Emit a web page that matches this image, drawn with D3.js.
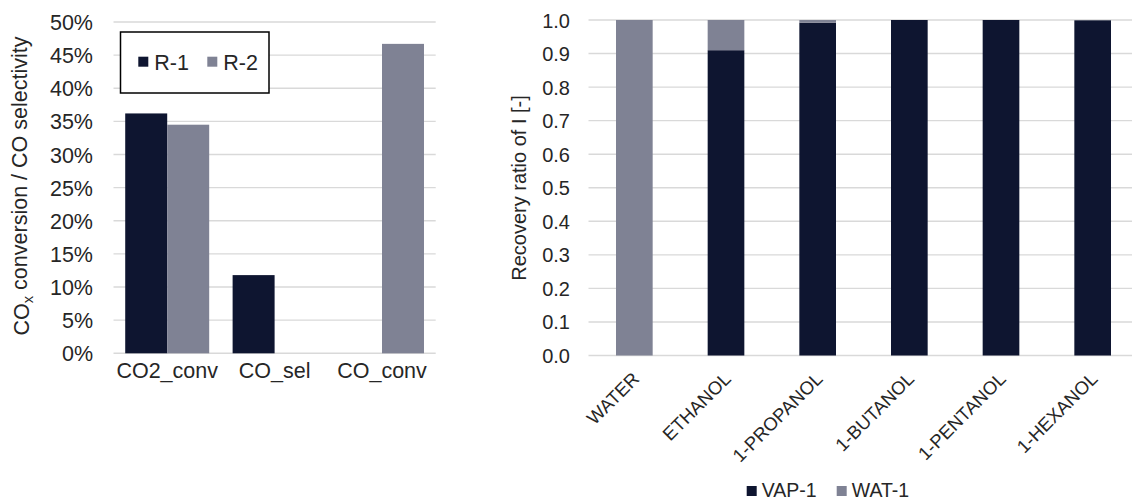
<!DOCTYPE html>
<html>
<head>
<meta charset="utf-8">
<script src="https://cdn.jsdelivr.net/npm/d3@7"></script>
<style>
  html, body { margin: 0; padding: 0; background: #fff; }
  svg { display: block; }
  text { font-family: "Liberation Sans", Arial, sans-serif; fill: #262626; }
</style>
</head>
<body>
<svg id="chart" width="1132" height="502"></svg>
<script>
// ---- Left chart data ----
const leftCategories = ["CO2_conv", "CO_sel", "CO_conv"];
const leftSeries = ["R-1", "R-2"];
const r1Values = [0.362, 0.118, 0];
const r2Values = [0.345, 0, 0.467];
const leftTicks = [0, 0.05, 0.10, 0.15, 0.20, 0.25, 0.30, 0.35, 0.40, 0.45, 0.50];

// ---- Right chart data ----
const rightCategories = ["WATER", "ETHANOL", "1-PROPANOL", "1-BUTANOL", "1-PENTANOL", "1-HEXANOL"];
const rightSeries = ["VAP-1", "WAT-1"];
const vapValues = [0, 0.910, 0.992, 1.0, 1.0, 0.999];
const watValues = [1.0, 0.090, 0.008, 0, 0, 0];
const rightTicks = [0, 0.1, 0.2, 0.3, 0.4, 0.5, 0.6, 0.7, 0.8, 0.9, 1.0];

const colors = { dark: "#0e1530", gray: "#7f8294" };
const gridColor = "#d9d9d9";

const svg = d3.select("#chart");

// ================= LEFT CHART =================
(function () {
  const fs = 21.5;
  const x0 = d3.scaleBand().domain(leftCategories).range([113.5, 435.7]);
  const x1 = d3.scaleBand().domain(leftSeries).range([0, x0.bandwidth()]).paddingInner(0).paddingOuter(0.279);
  const y = d3.scaleLinear().domain([0, 0.5]).range([353.3, 22]);
  const g = svg.append("g");

  const yAxis = d3.axisLeft(y).tickValues(leftTicks).tickFormat(d3.format(".0%")).tickSize(0).tickPadding(0);
  const ga = g.append("g").attr("transform", "translate(113.5,0)").call(yAxis);
  ga.select(".domain").remove();
  ga.selectAll("text").attr("x", -20.5).attr("dy", "0.35em").style("font-size", fs + "px").style("font-family", "Liberation Sans, Arial, sans-serif").attr("fill", "#262626");
  g.append("g").selectAll("line").data(leftTicks).join("line")
    .attr("x1", 113.5).attr("x2", 435.7)
    .attr("y1", d => y(d)).attr("y2", d => y(d))
    .attr("stroke", gridColor).attr("stroke-width", 1.4);

  const data = leftCategories.map((c, i) => ({ cat: c, vals: [r1Values[i], r2Values[i]] }));
  const grp = g.append("g").selectAll("g").data(data).join("g")
    .attr("transform", d => `translate(${x0(d.cat)},0)`);
  grp.selectAll("rect").data(d => d.vals.map((v, j) => ({ s: leftSeries[j], v })).filter(e => e.v > 0)).join("rect")
    .attr("x", d => x1(d.s)).attr("width", x1.bandwidth())
    .attr("y", d => y(d.v)).attr("height", d => y(0) - y(d.v))
    .attr("fill", d => d.s === "R-1" ? colors.dark : colors.gray);

  const xAxis = d3.axisBottom(x0).tickSize(0).tickPadding(0);
  const gx = g.append("g").attr("transform", "translate(0,353.3)").call(xAxis);
  gx.select(".domain").remove();
  gx.selectAll("text").attr("y", 25).attr("dy", 0).style("font-size", fs + "px").style("font-family", "Liberation Sans, Arial, sans-serif").attr("fill", "#262626");

  const t = g.append("text").attr("transform", "translate(29,186) rotate(-90)")
    .attr("text-anchor", "middle").style("font-size", fs + "px");
  t.append("tspan").text("CO");
  t.append("tspan").text("x").attr("dy", "0.3em").style("font-size", "0.68em");
  t.append("tspan").text(" conversion / CO selectivity").attr("dy", "-0.3em");

  const lg = g.append("g");
  lg.append("rect").attr("x", 120.5).attr("y", 32).attr("width", 148.5).attr("height", 61)
    .attr("fill", "#fff").attr("stroke", "#000").attr("stroke-width", 1.5);
  const items = lg.selectAll("g.item").data(leftSeries).join("g").attr("class", "item")
    .attr("transform", (d, i) => `translate(${138.3 + i * 69},0)`);
  items.append("rect").attr("x", 0).attr("y", 56.7).attr("width", 10).attr("height", 10)
    .attr("fill", d => d === "R-1" ? colors.dark : colors.gray);
  items.append("text").attr("x", 16).attr("y", 69.5).text(d => d).style("font-size", fs + "px");
})();

// ================= RIGHT CHART =================
(function () {
  const fs = 20;
  const x = d3.scaleBand().domain(rightCategories).range([588.5, 1138.5]).paddingInner(0.6).paddingOuter(0.3);
  const y = d3.scaleLinear().domain([0, 1]).range([355.5, 20]);
  const g = svg.append("g");

  const yAxis = d3.axisLeft(y).tickValues(rightTicks).tickFormat(d3.format(".1f")).tickSize(0).tickPadding(0);
  const ga = g.append("g").attr("transform", "translate(588.5,0)").call(yAxis);
  ga.select(".domain").remove();
  ga.selectAll("text").attr("x", -18.5).attr("dy", "0.35em").style("font-size", fs + "px").style("font-family", "Liberation Sans, Arial, sans-serif").attr("fill", "#262626");
  g.append("g").selectAll("line").data(rightTicks).join("line")
    .attr("x1", 588.5).attr("x2", 1132)
    .attr("y1", d => y(d)).attr("y2", d => y(d))
    .attr("stroke", gridColor).attr("stroke-width", 1.4);

  const stackData = rightCategories.map((c, i) => ({ cat: c, "VAP-1": vapValues[i], "WAT-1": watValues[i] }));
  const stacked = d3.stack().keys(rightSeries)(stackData);
  g.append("g").selectAll("g").data(stacked).join("g")
    .attr("fill", d => d.key === "VAP-1" ? colors.dark : colors.gray)
    .selectAll("rect").data(d => d.filter(e => e[1] - e[0] > 0)).join("rect")
    .attr("x", d => x(d.data.cat)).attr("width", x.bandwidth())
    .attr("y", d => y(d[1])).attr("height", d => y(d[0]) - y(d[1]));

  g.append("g").selectAll("text").data(rightCategories).join("text")
    .attr("transform", d => `translate(${x(d) + x.bandwidth() / 2 + 6},380) rotate(-45)`)
    .attr("text-anchor", "end").style("font-size", "18.5px").text(d => d);

  g.append("text").attr("transform", "translate(526,188) rotate(-90)")
    .attr("text-anchor", "middle").style("font-size", fs + "px").text("Recovery ratio of I [-]");

  const lg = g.append("g");
  const items = lg.selectAll("g").data(rightSeries).join("g")
    .attr("transform", (d, i) => `translate(${746.7 + i * 90},0)`);
  items.append("rect").attr("x", 0).attr("y", 486).attr("width", 10).attr("height", 10)
    .attr("fill", d => d === "VAP-1" ? colors.dark : colors.gray);
  items.append("text").attr("x", 15).attr("y", 497).text(d => d).style("font-size", "19.5px");
})();
</script>
</body>
</html>
